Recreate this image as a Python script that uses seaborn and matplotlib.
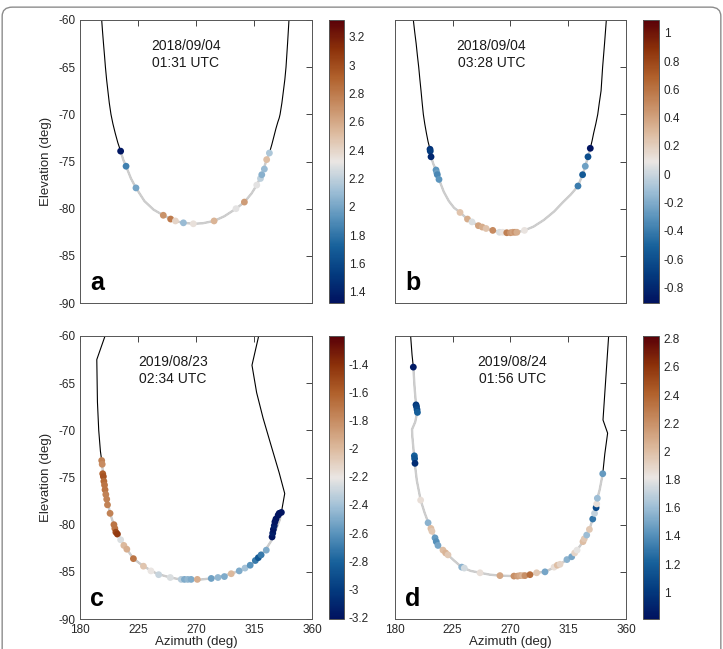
import pandas as pd
import matplotlib.pyplot as plt
from matplotlib.colors import LinearSegmentedColormap, Normalize
from matplotlib.cm import ScalarMappable
from matplotlib.patches import FancyBboxPatch
import seaborn as sns

sns.set_style('white')
plt.rcParams['font.family'] = ['Liberation Sans', 'DejaVu Sans']
plt.rcParams['axes.unicode_minus'] = False

# ---- panel a: 2018/09/04 01:31 UTC ----
a_curve_az = [196.8, 197.5, 198.2, 199.0, 199.7, 200.6, 201.6, 202.7, 204.0, 205.5, 207.3, 209.3, 211.5,
              213.5, 215.7, 219.5, 223.4, 230.0, 237.0, 244.6, 250.3, 255.0, 260.2, 267.9, 275.0, 284.0,
              292.0, 301.0, 307.5, 313.0, 317.1, 321.0, 324.8, 326.9, 328.8, 330.5, 332.0, 333.5, 334.5,
              335.2, 336.6, 337.8, 338.9, 339.8, 341.0, 342.1]
a_curve_el = [-60.0, -61.3, -62.5, -63.8, -65.0, -66.3, -67.5, -68.8, -70.0, -71.0, -72.0, -73.0, -73.9,
              -74.8, -75.5, -76.8, -77.8, -79.2, -80.1, -80.7, -81.1, -81.35, -81.5, -81.6, -81.55, -81.3,
              -80.8, -80.0, -79.3, -78.4, -77.5, -76.4, -74.8, -74.1, -73.2, -72.3, -71.5, -70.8, -70.4,
              -70.0, -68.8, -67.5, -66.3, -65.0, -62.5, -60.0]
a_gray = (12, 33)
a_pts_az = [211.5, 215.7, 223.4, 244.6, 250.3, 254.0, 260.2, 267.9, 284.0, 301.0, 307.5, 317.1, 320.0,
            321.0, 323.0, 324.8, 326.9]
a_pts_el = [-73.9, -75.5, -77.8, -80.7, -81.1, -81.3, -81.5, -81.6, -81.3, -80.0, -79.3, -77.5, -76.8,
            -76.4, -75.8, -74.8, -74.1]
a_val = [1.35, 1.85, 2.0, 2.7, 2.8, 2.4, 2.1, 2.35, 2.55, 2.3, 2.65, 2.3, 2.2, 2.05, 2.1, 2.5, 2.15]
a_ticks = [1.4, 1.6, 1.8, 2.0, 2.2, 2.4, 2.6, 2.8, 3.0, 3.2]

# ---- panel b: 2018/09/04 03:28 UTC ----
b_curve_az = [194.3, 195.4, 196.5, 197.5, 198.5, 199.4, 200.3, 201.2, 202.1, 203.2, 204.5, 205.8, 207.3,
              208.1, 210.0, 212.0, 214.3, 218.0, 222.0, 226.0, 230.7, 236.5, 245.0, 251.0, 256.2, 261.4,
              267.1, 275.0, 280.9, 288.0, 296.0, 304.0, 311.0, 317.0, 322.6, 326.2, 328.3, 330.4, 332.2,
              333.6, 334.8, 336.5, 338.0, 339.2, 340.6, 341.8, 343.3, 344.7]
b_curve_el = [-60.0, -61.3, -62.5, -63.8, -65.0, -66.3, -67.5, -68.8, -70.0, -71.0, -72.0, -72.9, -73.7,
              -74.5, -75.3, -75.9, -76.9, -78.2, -79.2, -79.9, -80.4, -81.1, -81.8, -82.1, -82.3, -82.5,
              -82.55, -82.5, -82.3, -81.9, -81.2, -80.3, -79.3, -78.5, -77.6, -76.4, -75.5, -74.5, -73.6,
              -72.8, -72.0, -71.0, -70.0, -68.8, -67.5, -65.0, -62.5, -60.0]
b_gray = (12, 38)
b_pts_az = [207.3, 207.5, 208.1, 212.0, 212.6, 213.0, 214.3, 230.7, 236.5, 240.0, 245.0, 248.0, 251.0,
            256.2, 261.4, 264.0, 267.1, 270.0, 271.8, 273.5, 275.0, 280.9, 322.6, 326.2, 328.3, 330.4, 332.2]
b_pts_el = [-73.7, -73.9, -74.5, -75.9, -76.2, -76.4, -76.9, -80.4, -81.1, -81.4, -81.8, -81.95, -82.1,
            -82.3, -82.5, -82.5, -82.55, -82.55, -82.5, -82.5, -82.5, -82.3, -77.6, -76.4, -75.5, -74.5, -73.6]
b_val = [-0.75, -0.7, -0.8, -0.3, -0.25, -0.35, -0.3, 0.25, 0.35, 0.05, 0.4, 0.35, 0.25,
         0.5, 0.05, 0.1, 0.55, 0.45, 0.4, 0.45, 0.35, 0.1, -0.4, -0.55, -0.25, -0.6, -0.9]
b_ticks = [-0.8, -0.6, -0.4, -0.2, 0.0, 0.2, 0.4, 0.6, 0.8, 1.0]

# ---- panel c: 2019/08/23 02:34 UTC ----
c_curve_az = [199.4, 193.0, 193.5, 194.5, 195.8, 196.8, 198.1, 199.4, 200.7, 203.3, 207.2, 209.0, 212.4,
              216.3, 221.4, 229.2, 239.6, 250.0, 257.7, 264.2, 271.2, 281.5, 291.9, 299.1, 303.8, 312.1,
              317.3, 323.7, 328.9, 332.3, 334.9, 336.2, 338.8, 334.5, 328.0, 322.0, 317.0, 313.4, 318.6]
c_curve_el = [-60.0, -62.5, -67.0, -70.0, -72.2, -73.2, -74.9, -76.0, -77.0, -78.8, -80.4, -80.9, -81.8,
              -82.6, -83.6, -84.4, -85.2, -85.6, -85.8, -85.85, -85.85, -85.7, -85.4, -85.1, -84.9, -84.3,
              -83.7, -82.7, -81.6, -80.4, -79.5, -78.7, -76.7, -74.5, -71.5, -68.7, -66.0, -63.1, -60.0]
c_gray = (5, 31)
c_pts_az = [196.8, 197.2, 197.6, 198.1, 198.5, 199.0, 199.4, 200.0, 200.7, 201.3, 203.3, 206.3, 207.0,
            207.8, 209.0, 211.5, 214.0, 216.3, 221.4, 229.2, 235.0, 241.0, 250.0, 258.5, 261.0, 263.6,
            266.2, 271.0, 281.8, 287.0, 292.0, 297.3, 303.5, 308.0, 312.0, 316.0, 318.3, 320.5, 324.5,
            329.0, 329.5, 330.0, 330.7, 331.2, 332.0, 333.7, 334.5, 336.2]
c_pts_el = [-73.2, -73.6, -74.6, -74.9, -75.4, -75.8, -76.3, -76.8, -77.3, -77.9, -78.8, -80.0, -80.4,
            -80.8, -81.0, -81.6, -82.2, -82.6, -83.6, -84.4, -84.9, -85.3, -85.6, -85.8, -85.8, -85.8,
            -85.8, -85.8, -85.7, -85.6, -85.5, -85.2, -84.9, -84.6, -84.3, -83.8, -83.5, -83.2, -82.7,
            -81.3, -80.9, -80.5, -80.1, -79.7, -79.4, -79.0, -78.8, -78.7]
c_val = [-1.75, -1.8, -1.6, -1.55, -1.65, -1.7, -1.7, -1.75, -1.75, -1.75, -1.75, -1.7, -1.7,
         -1.5, -1.45, -2.25, -2.0, -1.95, -1.7, -2.05, -2.2, -2.3, -2.25, -2.35, -2.5, -2.45,
         -2.5, -1.95, -2.55, -2.45, -2.5, -2.0, -2.5, -2.4, -2.6, -2.7, -2.85, -2.7, -2.5,
         -3.2, -3.15, -3.2, -3.15, -3.2, -3.2, -3.2, -3.2, -3.2]
c_ticks = [-3.2, -3.0, -2.8, -2.6, -2.4, -2.2, -2.0, -1.8, -1.6, -1.4]

# ---- panel d: 2019/08/24 01:56 UTC ----
d_curve_az = [192.2, 193.3, 194.3, 195.3, 196.5, 197.0, 195.8, 193.3, 193.5, 194.8, 195.6, 197.0, 200.0,
              203.0, 206.0, 208.6, 211.2, 213.5, 217.4, 221.3, 226.0, 232.0, 239.0, 246.3, 254.0, 261.8,
              272.4, 281.3, 285.2, 290.4, 296.9, 303.0, 308.6, 313.0, 317.7, 321.9, 326.5, 329.4, 332.0,
              334.1, 336.7, 337.7, 339.5, 341.9, 343.5, 345.7, 342.1, 346.5]
d_curve_el = [-60.0, -62.0, -63.3, -65.5, -67.5, -68.3, -69.1, -69.9, -70.6, -72.6, -73.7, -75.3, -77.4,
              -78.7, -79.8, -80.6, -81.4, -82.2, -82.7, -83.2, -83.8, -84.5, -84.9, -85.1, -85.3, -85.4,
              -85.45, -85.4, -85.3, -85.1, -85.0, -84.6, -84.2, -83.8, -83.4, -82.7, -81.8, -81.1, -80.3,
              -79.4, -78.2, -77.2, -76.3, -74.6, -72.5, -70.3, -68.9, -60.0]
d_gray = (2, 43)
d_pts_az = [194.3, 196.4, 196.8, 197.2, 197.5, 195.1, 195.3, 195.6, 200.0, 205.8, 208.0, 208.8, 211.2,
            212.2, 213.5, 217.4, 219.5, 221.3, 232.0, 234.0, 246.3, 261.8, 272.7, 275.5, 277.4, 279.5,
            281.3, 285.2, 290.4, 296.9, 304.0, 306.5, 308.6, 314.0, 317.7, 320.0, 321.9, 326.5, 327.5,
            329.4, 331.5, 334.1, 335.5, 336.7, 337.2, 337.7, 341.9]
d_pts_el = [-63.3, -67.3, -67.5, -67.8, -68.1, -72.7, -73.0, -73.5, -77.4, -79.8, -80.4, -80.7, -81.4,
            -81.8, -82.2, -82.7, -83.0, -83.2, -84.5, -84.6, -85.1, -85.4, -85.45, -85.45, -85.4, -85.4,
            -85.4, -85.3, -85.1, -85.0, -84.5, -84.3, -84.2, -83.7, -83.4, -83.0, -82.7, -81.8, -81.5,
            -81.1, -80.5, -79.4, -78.8, -78.2, -77.8, -77.2, -74.6]
d_val = [0.85, 1.0, 1.05, 1.1, 1.2, 1.2, 1.15, 0.95, 1.85, 1.55, 2.0, 1.95, 1.45,
         1.4, 1.5, 2.0, 2.05, 1.95, 1.55, 1.75, 1.85, 2.1, 2.2, 2.15, 2.1, 2.05,
         2.2, 2.35, 1.95, 1.5, 1.85, 2.0, 1.9, 1.55, 1.5, 1.9, 1.8, 2.0, 1.95,
         1.6, 1.95, 1.3, 1.7, 1.1, 1.85, 1.6, 1.45]
d_ticks = [1.0, 1.2, 1.4, 1.6, 1.8, 2.0, 2.2, 2.4, 2.6, 2.8]

# diverging blue-white-brown map, close to the 'vik' scheme
vik = LinearSegmentedColormap.from_list('vik', ['#01125f', '#033a7e', '#17619b', '#5892bb', '#a2c1d7',
                                               '#eae6e3', '#ddbb9f', '#c78d63', '#b0602b', '#8b3009',
                                               '#590008'])


def draw_panel(ax, cax, curve_az, curve_el, gray, pts_az, pts_el, val, vlim, ticks,
               stamp, stamp_x, letter, show_x, show_y):
    curve = pd.DataFrame({'az': curve_az, 'el': curve_el})
    pts = pd.DataFrame({'az': pts_az, 'el': pts_el, 'v': val})
    sns.lineplot(data=curve, x='az', y='el', sort=False, estimator=None, color='black', lw=0.8, ax=ax)
    sns.lineplot(data=curve.iloc[gray[0]:gray[1] + 1], x='az', y='el', sort=False, estimator=None,
                 color='#cdcdcd', lw=1.7, ax=ax)
    sns.scatterplot(data=pts, x='az', y='el', hue='v', palette=vik, hue_norm=vlim, s=24,
                    edgecolor='none', legend=False, ax=ax, zorder=3)
    ax.set_xlim(180, 360)
    ax.set_ylim(-90, -60)
    ax.set_xticks([180, 225, 270, 315, 360])
    ax.set_yticks([-90, -85, -80, -75, -70, -65, -60])
    ax.tick_params(direction='in', top=True, right=True, length=4, width=0.6,
                   labelsize=8.5, colors='#262626', labelbottom=show_x, labelleft=show_y)
    for s in ax.spines.values():
        s.set_color('#555555')
        s.set_linewidth(0.7)
    ax.set_xlabel('Azimuth (deg)' if show_x else '', fontsize=9.5, color='#262626', labelpad=0)
    ax.set_ylabel('Elevation (deg)' if show_y else '', fontsize=9.5, color='#262626', labelpad=4)
    ax.text(stamp_x, 0.878, stamp, transform=ax.transAxes, ha='center', va='center',
            fontsize=10, color='#1a1a1a', linespacing=1.3)
    ax.text(0.045, 0.03, letter, transform=ax.transAxes, ha='left', va='bottom',
            fontsize=18, fontweight='bold', color='black')

    cb = plt.gcf().colorbar(ScalarMappable(norm=Normalize(*vlim), cmap=vik), cax=cax)
    cb.set_ticks(ticks)
    cb.set_ticklabels(['%g' % t for t in ticks])
    cb.ax.tick_params(direction='in', length=3, width=0.6, labelsize=8.5, colors='#262626')
    cb.outline.set_edgecolor('#555555')
    cb.outline.set_linewidth(0.7)


fig = plt.figure(figsize=(7.23, 6.49), dpi=100)

ax_a = fig.add_axes([0.1107, 0.5331, 0.3209, 0.4361])
cax_a = fig.add_axes([0.4551, 0.5331, 0.0208, 0.4361])
ax_b = fig.add_axes([0.5463, 0.5331, 0.3195, 0.4361])
cax_b = fig.add_axes([0.8893, 0.5331, 0.0221, 0.4361])
ax_c = fig.add_axes([0.1107, 0.0462, 0.3209, 0.4361])
cax_c = fig.add_axes([0.4551, 0.0462, 0.0208, 0.4361])
ax_d = fig.add_axes([0.5463, 0.0462, 0.3195, 0.4361])
cax_d = fig.add_axes([0.8893, 0.0462, 0.0221, 0.4361])

draw_panel(ax_a, cax_a, a_curve_az, a_curve_el, a_gray, a_pts_az, a_pts_el, a_val, (1.32, 3.32), a_ticks,
           '2018/09/04\n01:31 UTC', 0.455, 'a', False, True)
draw_panel(ax_b, cax_b, b_curve_az, b_curve_el, b_gray, b_pts_az, b_pts_el, b_val, (-0.91, 1.09), b_ticks,
           '2018/09/04\n03:28 UTC', 0.418, 'b', False, False)
draw_panel(ax_c, cax_c, c_curve_az, c_curve_el, c_gray, c_pts_az, c_pts_el, c_val, (-3.21, -1.2), c_ticks,
           '2019/08/23\n02:34 UTC', 0.40, 'c', True, True)
draw_panel(ax_d, cax_d, d_curve_az, d_curve_el, d_gray, d_pts_az, d_pts_el, d_val, (0.81, 2.82), d_ticks,
           '2019/08/24\n01:56 UTC', 0.508, 'd', True, False)

# rounded frame around the whole figure
fig.patches.append(FancyBboxPatch((0.003, -0.05), 0.994, 1.039, boxstyle='round,pad=0,rounding_size=0.014',
                                  transform=fig.transFigure, fill=False, ec='#8c8c8c', lw=1.0))

fig.savefig('out.png', dpi=100)
